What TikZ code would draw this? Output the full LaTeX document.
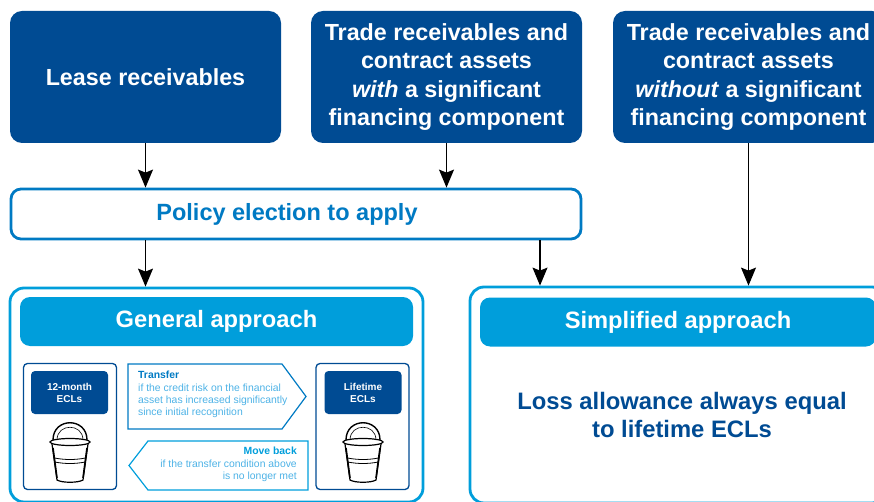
\documentclass[tikz,border=0pt]{standalone}
\usepackage{fontspec}
\setmainfont{Liberation Sans}
\usepackage{tikz}
\usetikzlibrary{arrows.meta}

\definecolor{kdark}{RGB}{0,75,147}
\definecolor{kmid}{RGB}{0,122,195}
\definecolor{klight}{RGB}{0,158,219}
\definecolor{ktext}{RGB}{77,178,230}

\begin{document}
\begin{tikzpicture}[x=1pt, y=-1pt,
  topbox/.style={rectangle, rounded corners=12pt, fill=kdark, text=white, font=\fontsize{23.3}{28.3}\selectfont\bfseries, align=center, minimum width=271pt, minimum height=132pt, inner sep=0pt},
  policybox/.style={rectangle, rounded corners=10pt, draw=kmid, line width=2.8pt, fill=white, text=kmid, font=\fontsize{23.5}{28}\selectfont\bfseries, minimum width=570pt, minimum height=50pt, inner sep=0pt},
  outerbox/.style={rectangle, rounded corners=14pt, draw=klight, line width=2.8pt, inner sep=0pt},
  headbox/.style={rectangle, rounded corners=10pt, fill=klight, text=white, font=\fontsize{23.7}{28}\selectfont\bfseries, minimum height=49pt, inner sep=0pt},
  stagebox/.style={rectangle, rounded corners=4pt, draw=kdark, line width=1.3pt, minimum width=93pt, minimum height=126pt, inner sep=0pt},
  stagehead/.style={rectangle, rounded corners=4pt, fill=kdark, text=white, font=\fontsize{10}{12}\selectfont\bfseries, align=center, minimum width=77pt, minimum height=43pt, inner sep=0pt},
  note/.style={font=\fontsize{10.4}{12.3}\selectfont, text=ktext, inner sep=0pt},
  arr/.style={-{Stealth[length=18pt, width=15pt, inset=3pt]}, line width=1.2pt, black}]
  \useasboundingbox (0,0) rectangle (874,502);

  % sources
  \node (lease) [topbox] at (145.5,77) {Lease receivables};
  \node (with) [topbox] at (446.5,77) {Trade receivables and\\contract assets\\\textit{with} a significant\\financing component};
  \node (without) [topbox] at (748.5,77) {Trade receivables and\\contract assets\\\textit{without} a significant\\financing component};

  \node (policy) [policybox] at (296,214) {Policy election to apply\hspace*{18pt}};

  % approaches
  \node (general) [outerbox, minimum width=413pt, minimum height=214pt] at (216.5,395) {};
  \node (genhead) [headbox, minimum width=393pt] at (216.5,321.5) {General approach};
  \node (simple) [outerbox, minimum width=416pt, minimum height=216pt] at (678,395) {};
  \node (simhead) [headbox, minimum width=396pt] at (678,322) {Simplified approach};
  \node (loss) [text=kdark, font=\fontsize{23.8}{27.5}\selectfont\bfseries, align=center] at (682,415) {Loss allowance always equal\\to lifetime ECLs};

  % stages
  \node (twelve) [stagebox] at (70,426.5) {};
  \node (twelvehead) [stagehead] at (69.5,392.5) {12-month\\ECLs};
  \node (life) [stagebox] at (362.5,426.5) {};
  \node (lifehead) [stagehead] at (363,392.5) {Lifetime\\ECLs};

  \draw [draw=kmid, line width=1.2pt] (128,364) -- (282,364) -- (306,396.5) -- (282,429) -- (128,429) -- cycle;
  \node (transfer) [note, anchor=north west, align=left] at (138,371) {\textbf{\textcolor{kmid}{Transfer}}\\if the credit risk on the financial\\asset has increased significantly\\since initial recognition};
  \draw [draw=klight, line width=1.2pt] (308,441) -- (148,441) -- (129,465.5) -- (148,490) -- (308,490) -- cycle;
  \node (moveback) [note, anchor=north east, align=right] at (297,447) {\textbf{\textcolor{klight}{Move back}}\\if the transfer condition above\\is no longer met};

  % buckets
  \foreach \bx in {70,363} {
    \draw [line width=1.4pt] (\bx-17,440) .. controls (\bx-17,417) and (\bx+17,417) .. (\bx+17,440);
    \draw [line width=0.6pt] (\bx-13,440) .. controls (\bx-13,423) and (\bx+13,423) .. (\bx+13,440);
    \draw [line width=1.2pt] (\bx,442) ellipse (20pt and 3.5pt);
    \draw [line width=1.2pt] (\bx-18,444) -- (\bx-13,480) .. controls (\bx-8,483) and (\bx+8,483) .. (\bx+13,480) -- (\bx+18,444);
    \draw [line width=0.8pt] (\bx-15.5,458) .. controls (\bx-5,460) and (\bx+5,460) .. (\bx+15.5,458);
    \draw [line width=0.8pt] (\bx-15.3,462) .. controls (\bx-5,464) and (\bx+5,464) .. (\bx+15.3,462);
    \draw [line width=1.6pt] (\bx-17,448) -- (\bx-13,478);
    \draw [line width=1.6pt] (\bx+17,448) -- (\bx+13,478);
  }

  % connectors
  \draw [arr] (lease.south) -- (lease.south |- policy.north);
  \draw [arr] (with.south) -- (with.south |- policy.north);
  \draw [arr] (lease.south |- policy.south) -- (lease.south |- general.north);
  \draw [arr] (540,240) coordinate (p2) -- (p2 |- simple.north);
  \draw [arr] (without.south) -- (without.south |- simple.north);
\end{tikzpicture}
\end{document}
